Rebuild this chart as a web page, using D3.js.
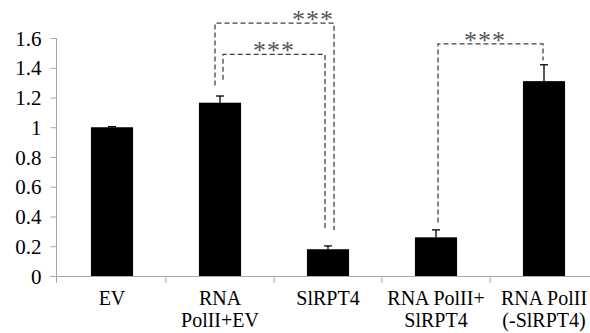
<!DOCTYPE html>
<html><head><meta charset="utf-8">
<script src="https://cdn.jsdelivr.net/npm/d3@7/dist/d3.min.js"></script>
<style>body{margin:0;background:#fff}svg{display:block}
svg text{font-family:"Liberation Serif","Times New Roman","DejaVu Serif",serif !important;}</style>
</head><body>
<svg id="c" width="590" height="333"></svg>
<script>
const categories = ["EV", "RNA PolII+EV", "SlRPT4", "RNA PolII+ SlRPT4", "RNA PolII (-SlRPT4)"];
const labelLines = [["EV"], ["RNA", "PolII+EV"], ["SlRPT4"], ["RNA PolII+", "SlRPT4"], ["RNA PolII", "(-SlRPT4)"]];
const values = [1.0, 1.165, 0.18, 0.26, 1.31];
const errors = [0.004, 0.045, 0.022, 0.05, 0.11];
const yTicks = [0, 0.2, 0.4, 0.6, 0.8, 1, 1.2, 1.4, 1.6];
// significance brackets
const brackets = [
  {from: 1, to: 2, top: 1.70, leftEnd: 1.28, rightEnd: 0.31, label: "***", dxL: -5, dxR: 6, starX: 313},
  {from: 1, to: 2, top: 1.49, leftEnd: 1.32, rightEnd: 0.31, label: "***", dxL: 3, dxR: -3, starX: 274},
  {from: 3, to: 4, top: 1.56, leftEnd: 0.36, rightEnd: 1.45, label: "***", dxL: 2, dxR: -1, starX: 485}
];

const svg = d3.select("#c");
const x = d3.scaleBand().domain(categories).range([58, 598]).paddingInner(0.61).paddingOuter(0.305);
const y = d3.scaleLinear().domain([0, 1.6]).range([276, 38]);
const axisX = 56.5;
const axisColor = "#a6a6a6";

// y axis
const ya = svg.append("g").attr("transform", `translate(${axisX},0)`)
  .call(d3.axisLeft(y).tickValues(yTicks).tickSize(6).tickPadding(9).tickFormat(d => d3.format("")(d)));
ya.attr("font-family", null).attr("font-size", null);
ya.select(".domain").attr("stroke", axisColor).attr("d", `M0,${y(1.6)}V${y(0)}`);
ya.selectAll(".tick line").attr("stroke", axisColor);
ya.selectAll(".tick text").style("font-size", "21px").attr("fill", "#000").attr("dy", "0.34em");

// x baseline + ticks
const step = x.step();
svg.append("line").attr("x1", axisX - 6).attr("x2", 590).attr("y1", y(0) + 0.5).attr("y2", y(0) + 0.5)
  .attr("stroke", axisColor).attr("stroke-width", 1.2);
const tickXs = d3.range(categories.length + 1).map(i => x.range()[0] + i * step);
tickXs.forEach((tx, i) => {
  const xx = i === 0 ? axisX : tx;
  svg.append("line").attr("x1", xx).attr("x2", xx).attr("y1", y(0)).attr("y2", y(0) + 7)
    .attr("stroke", axisColor);
});

// bars
svg.selectAll("rect.bar").data(categories).join("rect").attr("class", "bar")
  .attr("x", d => x(d)).attr("width", x.bandwidth())
  .attr("y", (d, i) => y(values[i])).attr("height", (d, i) => y(0) - y(values[i]))
  .attr("fill", "#000");

// error bars
categories.forEach((c, i) => {
  const cx = x(c) + x.bandwidth() / 2;
  const top = y(values[i] + errors[i]);
  svg.append("line").attr("x1", cx).attr("x2", cx).attr("y1", y(values[i])).attr("y2", top)
    .attr("stroke", "#000").attr("stroke-width", 1.3);
  svg.append("line").attr("x1", cx - 4).attr("x2", cx + 4).attr("y1", top).attr("y2", top)
    .attr("stroke", "#000").attr("stroke-width", 1.3);
});

// x labels
categories.forEach((c, i) => {
  const cx = x(c) + x.bandwidth() / 2;
  const t = svg.append("text").attr("x", cx).attr("y", 305).attr("text-anchor", "middle")
    .style("font-size", "20px").attr("fill", "#000");
  labelLines[i].forEach((ln, k) => {
    t.append("tspan").attr("x", cx).attr("dy", k === 0 ? 0 : 22).text(ln);
  });
});

// significance brackets
brackets.forEach(b => {
  const xl = x(categories[b.from]) + x.bandwidth() / 2 + b.dxL;
  const xr = x(categories[b.to]) + x.bandwidth() / 2 + b.dxR;
  const yt = y(b.top);
  svg.append("path")
    .attr("d", `M${xl},${y(b.leftEnd)}V${yt}H${xr}V${y(b.rightEnd)}`)
    .attr("fill", "none").attr("stroke", "#404040").attr("stroke-width", 1.3)
    .attr("stroke-dasharray", "5,3");
  svg.append("text").attr("x", b.starX)
    .attr("y", yt + 5).attr("text-anchor", "middle")
    .style("font-size", "26px").style("letter-spacing", "1px").attr("fill", "#555").text(b.label);
});
</script>
</body></html>
